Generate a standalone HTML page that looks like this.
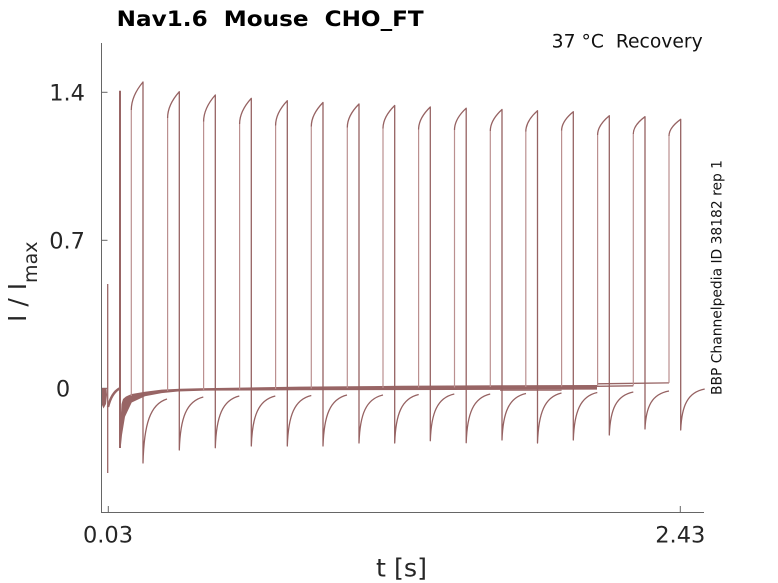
<!DOCTYPE html>
<html><head><meta charset="utf-8"><style>
html,body{margin:0;padding:0;background:#fff;}
svg{display:block;}
text{font-family:"DejaVu Sans","Liberation Sans",sans-serif;}
</style></head><body>
<svg width="778" height="583" viewBox="0 0 778 583" xmlns="http://www.w3.org/2000/svg">
<rect width="778" height="583" fill="#fff"/>

<!-- title -->
<text x="116.7" y="26" font-size="21" font-weight="bold" fill="#000" textLength="307" lengthAdjust="spacingAndGlyphs">Nav1.6&#160;&#160;Mouse&#160;&#160;CHO_FT</text>
<text x="551.7" y="47.3" font-size="18.5" fill="#111" textLength="151" lengthAdjust="spacingAndGlyphs">37 °C&#160;&#160;Recovery</text>

<!-- axes -->
<g stroke="#666" stroke-width="1" fill="none">
<line x1="101.5" y1="43" x2="101.5" y2="512.5"/>
<line x1="101" y1="512.5" x2="704" y2="512.5"/>
<line x1="101.5" y1="92.3" x2="107.5" y2="92.3"/>
<line x1="101.5" y1="240.3" x2="107.5" y2="240.3"/>
<line x1="101.5" y1="388.3" x2="107.5" y2="388.3"/>
<line x1="108.3" y1="512" x2="108.3" y2="506"/>
<line x1="680.3" y1="512" x2="680.3" y2="506"/>
</g>

<!-- tick labels -->
<g font-size="22.5" fill="#262626">
<text x="85" y="100.7" text-anchor="end">1.4</text>
<text x="85" y="248.7" text-anchor="end">0.7</text>
<text x="63" y="396.7" text-anchor="middle">0</text>
<text x="108" y="542.3" text-anchor="middle">0.03</text>
<text x="680.3" y="542.3" text-anchor="middle">2.43</text>
</g>
<text x="376" y="576.7" font-size="25" fill="#262626" textLength="51" lengthAdjust="spacingAndGlyphs">t [s]</text>
<text transform="translate(26,322) rotate(-90)" font-size="25" fill="#262626">I / I<tspan font-size="19" dy="11">max</tspan></text>
<text transform="translate(721.7,395) rotate(-90)" font-size="13.8" fill="#111" textLength="235" lengthAdjust="spacingAndGlyphs">BBP Channelpedia ID 38182 rep 1</text>

<!-- data -->
<g fill="#986565" stroke="none">
<!-- baseline band -->
<path d="M120,448 L120.6,420 L121.5,404 L123,399 L126,396.5 L131.7,394 L145,391.7 L161.7,389.6 L180,388.7 L200,388.2 L300,386.6 L400,385.8 L500,385.3 L597,385 L597,389.6 L500,389.9 L400,390.1 L300,390.3 L205,390.6 L178,391.5 L161.7,393.1 L145,396.3 L131.7,402.5 L125,416.7 L122,435 L121,445 Z"/>
<!-- early blob -->
<path d="M102,388 L106.5,388 L107,395 L106,404 L103.5,408.5 L102,405 Z"/>
</g>

<g fill="none" stroke="#986565" stroke-linejoin="round">
<line x1="597" y1="386.3" x2="633.3" y2="385.8" stroke-width="1.3"/>
<line x1="597" y1="383.8" x2="669" y2="382.9" stroke-width="1.3"/>
<line x1="500" y1="390.3" x2="561.6" y2="390.3" stroke-width="1"/>
<!-- early spike & recovery -->
<line x1="107.7" y1="284" x2="107.7" y2="473" stroke-width="1.3"/>
<path d="M108,407 C110,399 113,392 119.5,388.5" stroke-width="2.5"/>
<!-- prepulse -->
<line x1="120" y1="90.7" x2="120" y2="448" stroke-width="2"/>
</g>

<!-- rise lines (lighter) -->
<g stroke="#bb9090" stroke-width="1.2" fill="none">
<line x1="131.3" y1="396" x2="131.3" y2="110"/>
<line x1="167.6" y1="391" x2="167.6" y2="118"/>
<line x1="203.6" y1="390" x2="203.6" y2="121.7"/>
<line x1="239.6" y1="389.5" x2="239.6" y2="124"/>
<line x1="275.6" y1="389" x2="275.6" y2="125.5"/>
<line x1="311.3" y1="388.5" x2="311.3" y2="126.5"/>
<line x1="347.3" y1="388" x2="347.3" y2="127.5"/>
<line x1="383" y1="388" x2="383" y2="128.5"/>
<line x1="418.6" y1="387.5" x2="418.6" y2="129.5"/>
<line x1="454.5" y1="387.5" x2="454.5" y2="130"/>
<line x1="490.3" y1="387" x2="490.3" y2="131"/>
<line x1="525.8" y1="387" x2="525.8" y2="131.7"/>
<line x1="561.6" y1="386.5" x2="561.6" y2="130.7"/>
<line x1="597.6" y1="386" x2="597.6" y2="135"/>
<line x1="633.3" y1="385.5" x2="633.3" y2="134"/>
<line x1="669" y1="382.9" x2="669" y2="136"/>
</g>

<!-- plateau, fall, recovery -->
<g stroke="#966262" stroke-width="1.3" fill="none" stroke-linejoin="round">
<path d="M131.3,110 Q131.3,96 143,82 V463 C144,424.6 150,404.1 167,399"/>
<path d="M167.6,118 Q167.6,104.85 179.3,91.7 V450 C180.3,418.2 186.3,401.2 203.3,397"/>
<path d="M203.6,121.7 Q203.6,108.35 215.3,95 V447.7 C216.3,416.7 222.3,400.1 239.3,396"/>
<path d="M239.6,124 Q239.6,111.15 251.3,98.3 V446 C252.3,416 258.3,400 275.3,396"/>
<path d="M275.6,125.5 Q275.6,113.1 287.3,100.7 V446 C288.3,415.7 294.3,399.5 311.3,395.5"/>
<path d="M311.3,126.5 Q311.3,114.5 323,102.5 V446 C324,415.4 330,399.1 347,395"/>
<path d="M347.3,127.5 Q347.3,115.75 359,104 V443 C360,414.2 366,398.8 383,395"/>
<path d="M383,128.5 Q383,117 394.7,105.5 V443 C395.7,413.9 401.7,398.4 418.7,394.5"/>
<path d="M418.6,129.5 Q418.6,118.25 430.3,107 V440.7 C431.3,412.7 437.3,397.7 454.3,394"/>
<path d="M454.5,130 Q454.5,119.1 466.2,108.2 V442.7 C467.2,413.5 473.2,397.9 490.2,394"/>
<path d="M490.3,131 Q490.3,120.25 502,109.5 V440 C503,412.1 509,397.2 526,393.5"/>
<path d="M525.8,131.7 Q525.8,121.2 537.5,110.7 V443 C538.5,413 544.5,397 561.5,393"/>
<path d="M561.6,130.7 Q561.6,121.2 573.3,111.7 V440 C574.3,411.5 580.3,396.3 597.3,392.5"/>
<path d="M597.6,135 Q597.6,125.35 609.3,115.7 V435 C610.3,409.2 616.3,395.4 633.3,392"/>
<path d="M633.3,134 Q633.3,125.35 645,116.7 V429 C646,406.2 652,394 669,391"/>
<path d="M669,136 Q669,127.65 680.7,119.3 V430 C681.7,405.4 687.7,392.3 704.7,389"/>
</g>
</svg>
</body></html>
